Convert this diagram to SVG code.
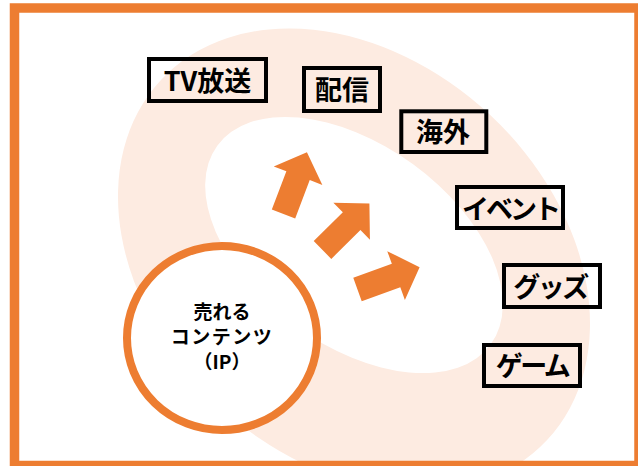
<svg xmlns="http://www.w3.org/2000/svg" width="638" height="466" viewBox="0 0 638 466">
  <style>
    .box { fill: none; stroke: #000; stroke-width: 4; }
    .lbl { font-family: "Noto Sans CJK JP", "Liberation Sans", sans-serif; font-weight: bold; font-size: 27px; fill: #000; text-anchor: middle; }
    .ctr { font-family: "Noto Sans CJK JP", "Liberation Sans", sans-serif; font-weight: bold; font-size: 19px; fill: #000; text-anchor: middle; }
    .arr { fill: #ED7D31; }
  </style>
  <defs>
    <path id="arrowShape" d="M0,-12.5 L41,-12.5 L41,-26 L66,0 L41,26 L41,12.5 L0,12.5 Z"/>
  </defs>
  <rect x="0" y="0" width="638" height="466" fill="#fff"/>
  <g id="background">
    <ellipse cx="354" cy="260" rx="264" ry="199" transform="rotate(43 354 260)" fill="#FDEBE1"/>
    <ellipse cx="354" cy="245" rx="169" ry="100" transform="rotate(36 354 245)" fill="#fff"/>
  </g>
  <rect id="frame" x="14.5" y="8" width="624.5" height="457.5" fill="none" stroke="#ED7D31" stroke-width="9.5"/>
  <g id="connectors">
    <use href="#arrowShape" class="arr" transform="translate(283.5 214) rotate(-69.2)"/>
    <use href="#arrowShape" class="arr" transform="translate(322.5 250) rotate(-44.7)"/>
    <use href="#arrowShape" class="arr" transform="translate(357.5 289.5) rotate(-19.8)"/>
  </g>
  <g id="ip">
    <ellipse cx="222" cy="338" rx="95" ry="92" fill="#fff" stroke="#ED7D31" stroke-width="8"/>
    <text class="ctr" x="222" y="319">売れる</text>
    <text class="ctr" x="222" y="344" letter-spacing="1.5">コンテンツ</text>
    <text class="ctr" x="222" y="369">（IP）</text>
  </g>
  <g id="tv">
    <rect class="box" x="149" y="59" width="117" height="42"/>
    <text class="lbl" x="207.5" y="91">TV放送</text>
  </g>
  <g id="haishin">
    <rect class="box" x="304" y="68" width="76" height="43"/>
    <text class="lbl" x="342" y="100">配信</text>
  </g>
  <g id="kaigai">
    <rect class="box" x="401.3" y="111.3" width="85" height="40.7"/>
    <text class="lbl" x="443" y="142">海外</text>
  </g>
  <g id="event">
    <rect class="box" x="457" y="187" width="106" height="41"/>
    <text class="lbl" x="510" y="219" letter-spacing="-3">イベント</text>
  </g>
  <g id="goods">
    <rect class="box" x="504" y="265" width="96" height="42"/>
    <text class="lbl" x="550" y="297" letter-spacing="-2.5">グッズ</text>
  </g>
  <g id="game">
    <rect class="box" x="484" y="345" width="96" height="41"/>
    <text class="lbl" x="532" y="376" letter-spacing="-2.5">ゲーム</text>
  </g>
</svg>
